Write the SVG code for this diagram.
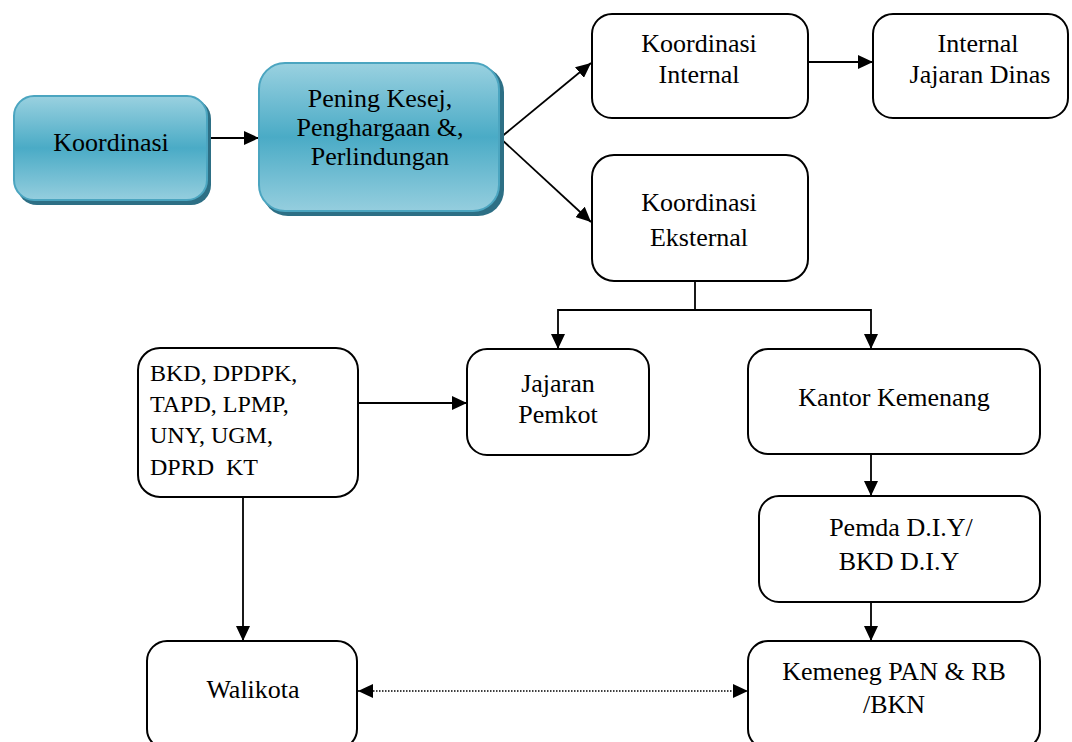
<svg xmlns="http://www.w3.org/2000/svg" width="1072" height="742" viewBox="0 0 1072 742">
<defs>
<linearGradient id="blue" x1="0" y1="0" x2="0" y2="1">
<stop offset="0" stop-color="#9ad1e0"/>
<stop offset="0.5" stop-color="#4aabc6"/>
<stop offset="1" stop-color="#95cede"/>
</linearGradient>
<marker id="ah" markerUnits="userSpaceOnUse" markerWidth="16" markerHeight="14" refX="15" refY="7" orient="auto-start-reverse">
<path d="M0,0 L15,7 L0,14 Z" fill="#000"/>
</marker>
<style>
.box{fill:#fff;stroke:#000;stroke-width:2}
.bbox{fill:url(#blue);stroke:#4ba5c0;stroke-width:2}
.shadow{fill:#2d6f85}
.t{font-family:"Liberation Serif","Times New Roman",serif;font-size:26px;fill:#000;text-anchor:middle}
.tl{font-family:"Liberation Serif","Times New Roman",serif;font-size:24px;fill:#000}
.c{fill:none;stroke:#000;stroke-width:1.8}
.d{fill:none;stroke:#000;stroke-width:1.6;stroke-dasharray:1.5 1.5}
</style>
</defs>

<g id="connectors">
<line class="c" x1="209" y1="138" x2="259" y2="138" marker-end="url(#ah)"/>
<line class="c" x1="500" y1="138" x2="591" y2="63" marker-end="url(#ah)"/>
<line class="c" x1="500" y1="138" x2="591" y2="222" marker-end="url(#ah)"/>
<line class="c" x1="808" y1="62" x2="873" y2="62" marker-end="url(#ah)"/>
<polyline class="c" points="695,281 695,310"/>
<polyline class="c" points="558,349 558,310 871,310 871,349" marker-start="url(#ah)" marker-end="url(#ah)"/>
<line class="c" x1="358" y1="403" x2="467" y2="403" marker-end="url(#ah)"/>
<line class="c" x1="243" y1="497" x2="243" y2="641" marker-end="url(#ah)"/>
<line class="c" x1="871" y1="454" x2="871" y2="496" marker-end="url(#ah)"/>
<line class="c" x1="871" y1="602" x2="871" y2="641" marker-end="url(#ah)"/>
<line class="d" x1="358" y1="691" x2="748" y2="691" marker-start="url(#ah)" marker-end="url(#ah)"/>
</g>

<g id="node-koordinasi">
<rect class="shadow" x="17" y="99" width="194" height="106" rx="20"/>
<rect class="bbox" x="14" y="96" width="193" height="104" rx="20"/>
<text class="t" x="111" y="151">Koordinasi</text>
</g>

<g id="node-pening">
<rect class="shadow" x="262" y="66" width="242" height="150" rx="26"/>
<rect class="bbox" x="259" y="63" width="240" height="148" rx="26"/>
<text class="t" x="380" y="107">Pening Kesej,</text>
<text class="t" x="380" y="136">Penghargaan &amp;,</text>
<text class="t" x="380" y="165">Perlindungan</text>
</g>

<g id="node-koord-internal">
<rect class="box" x="592" y="14" width="216" height="104" rx="20"/>
<text class="t" x="699" y="52">Koordinasi</text>
<text class="t" x="699" y="83">Internal</text>
</g>

<g id="node-internal-jajaran">
<rect class="box" x="873" y="14" width="195" height="104" rx="20"/>
<text class="t" x="978" y="52">Internal</text>
<text class="t" x="980" y="83">Jajaran Dinas</text>
</g>

<g id="node-koord-eksternal">
<rect class="box" x="592" y="155" width="216" height="126" rx="22"/>
<text class="t" x="699" y="211">Koordinasi</text>
<text class="t" x="699" y="246">Eksternal</text>
</g>

<g id="node-bkd">
<rect class="box" x="138" y="348" width="220" height="149" rx="22"/>
<text class="tl" x="150" y="381">BKD, DPDPK,</text>
<text class="tl" x="150" y="412">TAPD, LPMP,</text>
<text class="tl" x="150" y="443">UNY, UGM,</text>
<text class="tl" x="150" y="475" xml:space="preserve">DPRD  KT</text>
</g>

<g id="node-jajaran-pemkot">
<rect class="box" x="467" y="349" width="182" height="106" rx="20"/>
<text class="t" x="558" y="392">Jajaran</text>
<text class="t" x="558" y="423">Pemkot</text>
</g>

<g id="node-kantor-kemenang">
<rect class="box" x="748" y="349" width="292" height="105" rx="20"/>
<text class="t" x="894" y="406">Kantor Kemenang</text>
</g>

<g id="node-pemda">
<rect class="box" x="759" y="496" width="281" height="106" rx="20"/>
<text class="t" x="901" y="536">Pemda D.I.Y/</text>
<text class="t" x="899" y="570">BKD D.I.Y</text>
</g>

<g id="node-walikota">
<rect class="box" x="147" y="641" width="210" height="108" rx="20"/>
<text class="t" x="253" y="698">Walikota</text>
</g>

<g id="node-kemeneg">
<rect class="box" x="748" y="641" width="292" height="108" rx="20"/>
<text class="t" x="894" y="680">Kemeneg PAN &amp; RB</text>
<text class="t" x="894" y="713">/BKN</text>
</g>
</svg>
